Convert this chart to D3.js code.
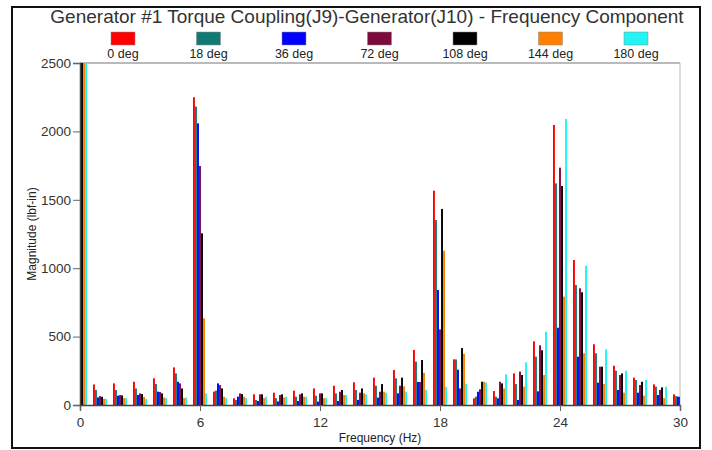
<!DOCTYPE html>
<html>
<head>
<meta charset="utf-8">
<script src="https://cdn.jsdelivr.net/npm/d3@7"></script>
<style>
  body { margin: 0; background: #fff; }
  svg { display: block; font-family: "Liberation Sans", Arial, sans-serif; }
</style>
</head>
<body>
<div class="chart"></div>
<script>
// Frequencies (Hz) for each bar group
const freqs = [0, 1, 2, 3, 4, 5, 6, 7, 8, 9, 10, 11, 12, 13, 14, 15, 16, 17, 18, 19, 20, 21, 22, 23, 24, 25, 26, 27, 28, 29, 30];

// Magnitude (lbf-in) per phase angle
const deg0   = [2600, 150, 158, 170, 195, 275, 2250, 98, 49, 78, 90, 105, 121, 141, 166, 200, 256, 402, 1567, 334, 49, 102, 231, 465, 2047, 1060, 444, 287, 200, 151, 78];
const deg18  = [2600, 110, 110, 121, 153, 231, 2181, 105, 37, 37, 50, 61, 68, 85, 110, 141, 195, 317, 1352, 333, 61, 61, 153, 353, 1620, 877, 378, 251, 183, 134, 65];
const deg36  = [2600, 55, 68, 73, 98, 170, 2059, 158, 61, 29, 26, 29, 25, 29, 37, 54, 85, 168, 841, 258, 97, 49, 37, 100, 565, 353, 163, 110, 90, 73, 61];
const deg72  = [2600, 65, 73, 85, 95, 158, 1747, 146, 85, 78, 73, 78, 85, 97, 90, 97, 141, 168, 553, 121, 115, 170, 244, 436, 1735, 853, 280, 219, 146, 110, 60];
const deg108 = [2600, 60, 70, 80, 85, 121, 1255, 121, 80, 78, 78, 85, 85, 110, 121, 153, 200, 329, 1433, 416, 170, 158, 219, 400, 1601, 824, 280, 231, 170, 129, 60];
const deg144 = [2600, 45, 50, 60, 55, 50, 634, 60, 60, 50, 55, 60, 50, 73, 85, 97, 136, 235, 1128, 375, 170, 121, 134, 219, 792, 378, 153, 90, 68, 50, 50];
const deg180 = [2600, 45, 50, 45, 50, 55, 85, 50, 50, 60, 60, 60, 50, 73, 78, 90, 97, 110, 132, 155, 165, 224, 312, 536, 2091, 1018, 407, 251, 183, 134, 50];

const seriesNames = ["0 deg", "18 deg", "36 deg", "72 deg", "108 deg", "144 deg", "180 deg"];
const seriesValues = [deg0, deg18, deg36, deg72, deg108, deg144, deg180];
const colors = ["#ff0000", "#127a74", "#0000ff", "#7d0a3c", "#000000", "#ff8000", "#22f4f4"];

const xTicks = [0, 6, 12, 18, 24, 30];
const yTicks = [0, 500, 1000, 1500, 2000, 2500];

// Chart dimensions
const W = 712, H = 450;
const margin = { top: 63, right: 32, bottom: 45, left: 80 };
const width = W - margin.left - margin.right;
const height = H - margin.top - margin.bottom;

const svg = d3.select(".chart").append("svg")
  .attr("width", W)
  .attr("height", H);

svg.append("rect").attr("width", W).attr("height", H).attr("fill", "#fff");

// Outer frame
svg.append("rect")
  .attr("x", 12).attr("y", 7)
  .attr("width", 688).attr("height", 441)
  .attr("fill", "none")
  .attr("stroke", "#111")
  .attr("stroke-width", 2);

// Title
svg.append("text")
  .attr("x", 367).attr("y", 23)
  .attr("text-anchor", "middle")
  .attr("font-size", 19)
  .attr("fill", "#333")
  .text("Generator #1 Torque Coupling(J9)-Generator(J10) - Frequency Component");

// Legend
const legend = svg.append("g");
seriesNames.forEach((name, i) => {
  const cx = 123 + i * 85.5;
  legend.append("rect")
    .attr("x", cx - 12).attr("y", 32)
    .attr("width", 24).attr("height", 13)
    .attr("fill", colors[i])
    .attr("stroke", "#888")
    .attr("stroke-width", 0.5);
  legend.append("text")
    .attr("x", cx).attr("y", 58)
    .attr("text-anchor", "middle")
    .attr("font-size", 12.5)
    .attr("fill", "#222")
    .text(name);
});

const g = svg.append("g")
  .attr("transform", `translate(${margin.left},${margin.top})`);

// Scales
const x = d3.scaleLinear().domain([0, 30]).range([0, width]);
const y = d3.scaleLinear().domain([0, 2500]).range([height, 0]);
const inner = d3.scaleBand()
  .domain(d3.range(seriesNames.length))
  .range([-7, 7])
  .paddingInner(0.05);

// Clip bars to the plot area
svg.append("defs").append("clipPath").attr("id", "plotClip")
  .append("rect").attr("x", 0).attr("y", 0).attr("width", width).attr("height", height);

// Plot border (top and right)
g.append("line").attr("x1", 0).attr("x2", width).attr("y1", 0).attr("y2", 0)
  .attr("stroke", "#777").attr("stroke-width", 1.2);
g.append("line").attr("x1", width).attr("x2", width).attr("y1", 0).attr("y2", height)
  .attr("stroke", "#bbb").attr("stroke-width", 1);

// Bars
const bars = g.append("g").attr("clip-path", "url(#plotClip)");
seriesValues.forEach((vals, s) => {
  bars.append("g")
    .selectAll("rect")
    .data(freqs.map((f, i) => ({ f: f, v: vals[i] })))
    .join("rect")
    .attr("x", d => x(d.f) + inner(s))
    .attr("y", d => y(d.v))
    .attr("width", inner.bandwidth())
    .attr("height", d => height - y(d.v))
    .attr("fill", colors[s]);
});

// Axes
const xAxis = g.append("g")
  .attr("transform", `translate(0,${height})`)
  .call(d3.axisBottom(x).tickValues(xTicks).tickFormat(d3.format("d")).tickSize(6).tickPadding(6));
const yAxis = g.append("g")
  .call(d3.axisLeft(y).tickValues(yTicks).tickFormat(d3.format("d")).tickSize(7).tickPadding(2));

[xAxis, yAxis].forEach(a => {
  a.select(".domain").attr("stroke", "#444").attr("stroke-width", 1.5);
  a.selectAll(".tick line").attr("stroke", "#666");
  a.selectAll(".tick text")
    .attr("font-size", 13.5)
    .attr("font-family", "Liberation Sans, Arial, sans-serif")
    .attr("fill", "#333");
});

// Axis titles
svg.append("text")
  .attr("x", 380).attr("y", 442)
  .attr("text-anchor", "middle")
  .attr("font-size", 12)
  .attr("fill", "#222")
  .text("Frequency (Hz)");

svg.append("text")
  .attr("transform", "translate(36,234) rotate(-90)")
  .attr("text-anchor", "middle")
  .attr("font-size", 12)
  .attr("fill", "#222")
  .text("Magnitude (lbf-in)");
</script>
</body>
</html>
